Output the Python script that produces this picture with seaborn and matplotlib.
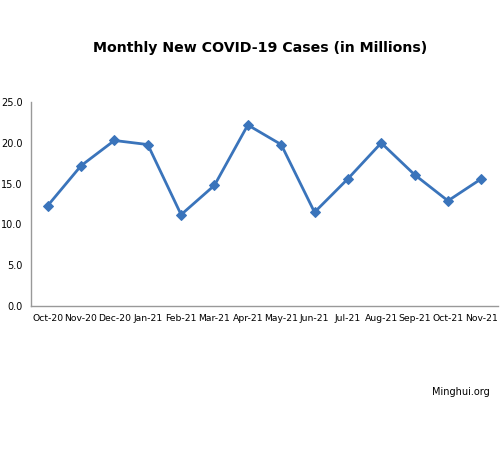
import numpy as np
import pandas as pd
import matplotlib
matplotlib.use("Agg")
import matplotlib.pyplot as plt
import seaborn as sns
from matplotlib.ticker import FixedLocator

months = ["Oct-20", "Nov-20", "Dec-20", "Jan-21", "Feb-21", "Mar-21", "Apr-21",
          "May-21", "Jun-21", "Jul-21", "Aug-21", "Sep-21", "Oct-21", "Nov-21"]
cases = [12.3, 17.2, 20.3, 19.8, 11.2, 14.8, 22.2,
         19.8, 11.5, 15.6, 20.0, 16.1, 12.9, 15.6]

df = pd.DataFrame({"month": months, "cases": cases, "pos": np.arange(len(months))})

sns.set_style("white")
plt.rcParams["text.color"] = "black"
plt.rcParams["xtick.color"] = "black"
plt.rcParams["ytick.color"] = "black"

fig = plt.figure(figsize=(5, 4.5), dpi=100)
ax = fig.add_axes([0.062, 0.32, 0.934, 0.453])

sns.lineplot(data=df, x="pos", y="cases", ax=ax, color="#3a74bb", linewidth=2,
             marker="D", markersize=5, markeredgecolor="#3a74bb")

ax.set_xlim(-0.5, len(months) - 0.5)
ax.set_ylim(0, 25)
ax.set_yticks(np.arange(0, 25.1, 5))
ax.set_yticklabels([f"{v:.1f}" for v in np.arange(0, 25.1, 5)], fontsize=7)
ax.set_xticks(df["pos"])
ax.set_xticklabels(months, fontsize=6.7)
ax.tick_params(axis="x", which="major", length=0, pad=6)
ax.xaxis.set_minor_locator(FixedLocator(np.arange(-0.5, len(months), 1)))
ax.tick_params(axis="x", which="minor", length=4, color="#999999", direction="out")
ax.tick_params(axis="y", length=4, color="#999999", direction="out", pad=2)
ax.set_xlabel("")
ax.set_ylabel("")

for side in ["top", "right"]:
    ax.spines[side].set_visible(False)
for side in ["left", "bottom"]:
    ax.spines[side].set_color("#999999")
    ax.spines[side].set_linewidth(1)

fig.text(0.52, 0.893, "Monthly New COVID-19 Cases (in Millions)", ha="center",
         va="center", fontsize=10.2, fontweight="bold")
fig.text(0.98, 0.128, "Minghui.org", ha="right", va="center", fontsize=7)

fig.savefig("out.png", dpi=100)
